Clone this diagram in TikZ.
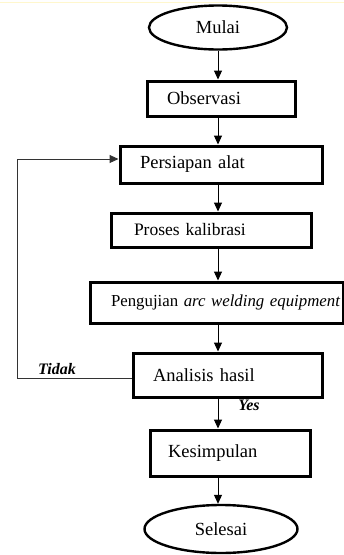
\documentclass[tikz,border=0pt]{standalone}
\usepackage{fontspec}
\setmainfont{Liberation Serif}
\usetikzlibrary{arrows.meta,shapes.geometric}
\begin{document}
\begin{tikzpicture}[x=1pt,y=-1pt,
  term/.style={ellipse,draw,line width=2.4pt,inner sep=0pt,font=\fontsize{18.5}{21}\selectfont},
  procbox/.style={draw,line width=3pt,rectangle,inner ysep=0pt,inner xsep=20pt,align=left,font=\fontsize{18.5}{21}\selectfont},
  flow/.style={-{Triangle[width=8pt,length=9pt]},line width=1pt},
  back/.style={-{Triangle[width=8pt,length=9pt]},line width=1pt,draw=black!80},
  lbl/.style={font=\fontsize{16}{18}\selectfont\bfseries\itshape,inner sep=0pt}]
\useasboundingbox (0,0) rectangle (344,555);
\fill[white] (0,0) rectangle (344,555);
\draw[color={rgb,255:red,255;green,247;blue,205},line width=1pt] (0,2.5) -- (344,2.5);

\coordinate (col) at (218,0);
\node[term,minimum width=138,minimum height=44] (mulai) at (218,27.5) {Mulai};
\node[procbox,minimum height=35,text width=108] (obs) at (221,98.5) {Observasi};
\node[procbox,minimum height=37,text width=162] (pers) at (221,164.5) {Persiapan alat};
\node[procbox,minimum height=34,inner xsep=23pt,text width=154,font=\fontsize{17.5}{20}\selectfont] (proses) at (211,230) {Proses kalibrasi};
\node[procbox,minimum height=41,inner xsep=21pt,text width=211,font=\fontsize{16.8}{20}\selectfont] (peng) at (216.5,302.5) {\mbox{Pengujian \textit{arc welding equipment}}};
\node[procbox,minimum height=44,text width=149] (anal) at (227.5,375) {Analisis hasil};
\node[procbox,minimum height=46,inner xsep=18pt,text width=124] (kes) at (230,453) {Kesimpulan};
\node[term,minimum width=153,minimum height=48] (selesai) at (221,529) {Selesai};

\draw[flow] (mulai.south -| col) -- (obs.north -| col);
\draw[flow] (obs.south -| col) -- (pers.north -| col);
\draw[flow] (pers.south -| col) -- (proses.north -| col);
\draw[flow] (proses.south -| col) -- (peng.north -| col);
\draw[flow] (peng.south -| col) -- (anal.north -| col);
\draw[flow] (anal.south -| col) -- (kes.north -| col);
\draw[flow] (kes.south -| col) -- (selesai.north -| col);

\coordinate (fb) at (17,378);
\draw[back] ([yshift=-3pt]anal.west) -- (fb) |- ([yshift=5.5pt]pers.west);

\node[lbl] (tidak) at (57,369) {Tidak};
\node[lbl] (yes) at (249,405) {Yes};
\end{tikzpicture}
\end{document}
